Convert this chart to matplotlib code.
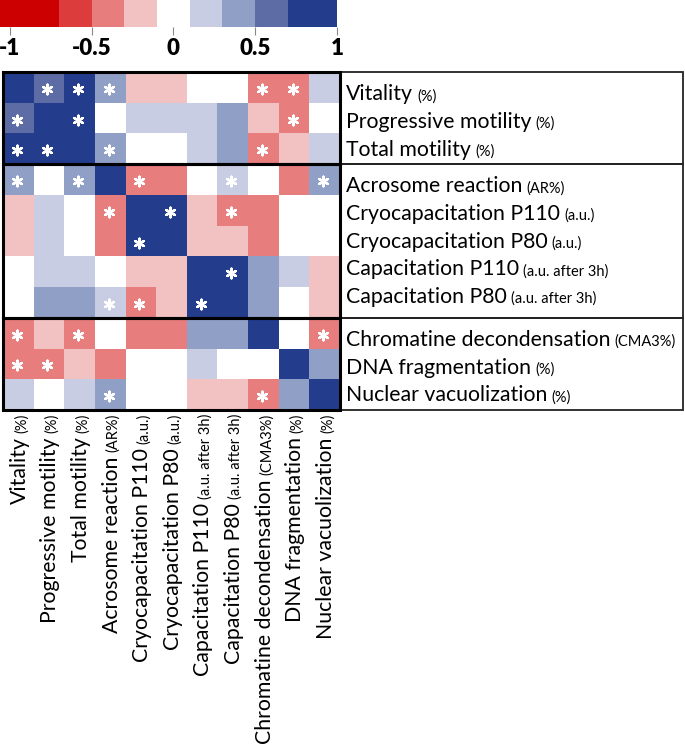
import numpy as np
import matplotlib
matplotlib.use('Agg')
import matplotlib.pyplot as plt
from matplotlib.colors import ListedColormap, BoundaryNorm
from matplotlib.patches import Rectangle
import matplotlib.transforms as mtransforms

plt.rcParams['font.family'] = ['Lato', 'DejaVu Sans']

# variable names: big part + small part in brackets
names = ['Vitality', 'Progressive motility', 'Total motility', 'Acrosome reaction',
         'Cryocapacitation P110', 'Cryocapacitation P80', 'Capacitation P110',
         'Capacitation P80', 'Chromatine decondensation', 'DNA fragmentation',
         'Nuclear vacuolization']
units = ['(%)', '(%)', '(%)', '(AR%)', '(a.u.)', '(a.u.)', '(a.u. after 3h)',
         '(a.u. after 3h)', '(CMA3%)', '(%)', '(%)']
groups = [(0, 3), (3, 8), (8, 11)]

# correlation values
corr = np.array([
    [1.00, 0.60, 0.85, 0.40, -0.20, -0.20, 0.00, 0.00, -0.40, -0.40, 0.20],
    [0.60, 1.00, 0.85, 0.00, 0.20, 0.20, 0.20, 0.40, -0.20, -0.40, 0.00],
    [0.85, 0.85, 1.00, 0.40, 0.00, 0.00, 0.20, 0.40, -0.40, -0.20, 0.20],
    [0.40, 0.00, 0.40, 1.00, -0.40, -0.40, 0.00, 0.20, 0.00, -0.40, 0.40],
    [-0.20, 0.20, 0.00, -0.40, 1.00, 0.85, -0.20, -0.40, -0.40, 0.00, 0.00],
    [-0.20, 0.20, 0.00, -0.40, 0.85, 1.00, -0.20, -0.20, -0.40, 0.00, 0.00],
    [0.00, 0.20, 0.20, 0.00, -0.20, -0.20, 1.00, 0.85, 0.40, 0.20, -0.20],
    [0.00, 0.40, 0.40, 0.20, -0.40, -0.20, 0.85, 1.00, 0.40, 0.00, -0.20],
    [-0.40, -0.20, -0.40, 0.00, -0.40, -0.40, 0.40, 0.40, 1.00, 0.00, -0.40],
    [-0.40, -0.40, -0.20, -0.40, 0.00, 0.00, 0.20, 0.00, 0.00, 1.00, 0.40],
    [0.20, 0.00, 0.20, 0.40, 0.00, 0.00, -0.20, -0.20, -0.40, 0.40, 1.00],
])

# significant cells (row, col)
star_rows = [0, 0, 0, 0, 0, 1, 1, 1, 2, 2, 2, 2, 3, 3, 3, 3, 3, 4, 4, 4, 5, 6, 7, 7, 7, 8, 8, 8, 9, 9, 10, 10]
star_cols = [1, 2, 3, 8, 9, 0, 2, 9, 0, 1, 3, 8, 0, 2, 4, 7, 10, 3, 5, 7, 4, 7, 3, 4, 6, 0, 2, 10, 0, 1, 3, 8]

bounds = [-1, -0.7, -0.5, -0.3, -0.1, 0.1, 0.3, 0.5, 0.7, 1]
colors = ['#cc0000', '#dc3c3c', '#e77d7d', '#f2c1c1', '#ffffff',
          '#c8cde3', '#909fc6', '#5e6ca6', '#233d8c']
cbar_ticks = [-1, -0.5, 0, 0.5, 1]
cbar_labels = ['-1', '-0.5', '0', '0.5', '1']

cmap = ListedColormap(colors)
norm = BoundaryNorm(bounds, cmap.N)

W, H = 685, 745
fig = plt.figure(figsize=(W / 100, H / 100), dpi=100)


def px_axes(l, t, r, b):
    return fig.add_axes([l / W, 1 - b / H, (r - l) / W, (b - t) / H])


n = len(names)
ax = px_axes(3, 72, 340, 410)
ax.pcolormesh(np.arange(n + 1), np.arange(n + 1), corr, cmap=cmap, norm=norm)
ax.scatter(np.array(star_cols) + 0.45, np.array(star_rows) + 0.55, marker=(6, 2, 0),
           s=48, c='white', linewidths=1.7, zorder=3)
ax.set_xlim(0, n)
ax.set_ylim(n, 0)
ax.axis('off')

cw = 337 / n   # px per column
rh = 338 / n   # px per row
box_w = (683 - 340) / cw

for g0, g1 in groups:
    ax.add_patch(Rectangle((n, g0), box_w, g1 - g0, fill=False, lw=1.3,
                           ec='#222222', clip_on=False, zorder=4))
for g0, g1 in groups:
    ax.add_patch(Rectangle((0, g0), n, g1 - g0, fill=False, lw=2.2,
                           ec='black', clip_on=False, zorder=5))

big_fs = 15.3
small_fs = 10.5
fig.canvas.draw()
rend = fig.canvas.get_renderer()

# row labels on the right
for g0, g1 in groups:
    for k, i in enumerate(range(g0, g1)):
        y = g0 + 0.7 + k * 0.9 + 0.22
        t = ax.text(n + 6 / cw, y, names[i], fontsize=big_fs, ha='left', va='baseline',
                    clip_on=False)
        wpx = t.get_window_extent(rend).width
        tr = mtransforms.offset_copy(ax.transData, fig, x=wpx + 4, y=0, units='dots')
        ax.text(n + 6 / cw, y, units[i], fontsize=small_fs, ha='left', va='baseline',
                transform=tr, clip_on=False)

# column labels at the bottom
for j in range(n):
    x = j + 0.5 + 0.24
    y = n + 4 / rh
    s = ax.text(x, y, units[j], fontsize=small_fs, rotation=90, rotation_mode='anchor',
                ha='right', va='baseline', clip_on=False)
    hpx = s.get_window_extent(rend).height
    tr = mtransforms.offset_copy(ax.transData, fig, x=0, y=-(hpx + 4), units='dots')
    ax.text(x, y, names[j], fontsize=big_fs, rotation=90, rotation_mode='anchor',
            ha='right', va='baseline', transform=tr, clip_on=False)

# colour bar on top
cax = px_axes(0, 0, 337, 27)
lo = -1.06
edges = [lo] + bounds[1:]
mids = [(a + b) / 2 for a, b in zip(bounds[:-1], bounds[1:])]
cax.pcolormesh(edges, [0, 1], np.array([mids]), cmap=cmap, norm=norm)
cax.set_xlim(lo, 1)
cax.set_ylim(0, 1)
cax.set_yticks([])
cax.set_xticks(cbar_ticks)
cax.set_xticklabels(cbar_labels, fontsize=16, fontweight='heavy')
cax.tick_params(axis='x', length=6, color='#888888', pad=2)
for sp in cax.spines.values():
    sp.set_visible(False)

fig.savefig('out.png', dpi=100)
